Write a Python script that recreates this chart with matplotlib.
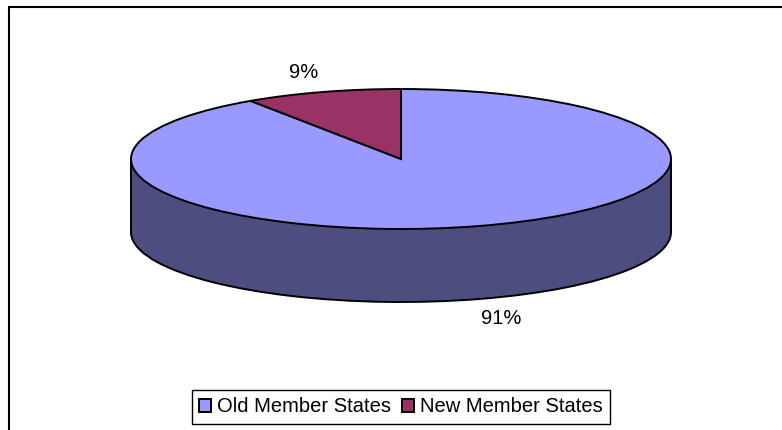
import matplotlib
matplotlib.use("Agg")
import matplotlib.pyplot as plt
from matplotlib.patches import Rectangle
from matplotlib.transforms import Affine2D

categories = ["Old Member States", "New Member States"]
shares = [90.6, 9.4]
top_colors = ["#9999FF", "#993366"]
side_colors = ["#4D4D80", "#4D1A33"]

W, H = 782, 430
CX, CY = 401, H - 159  # pie centre, pixels from the bottom
RX, RY = 270, 70
DEPTH = 73
LW = 1.4

plt.rcParams["font.family"] = ["Liberation Sans", "DejaVu Sans"]

fig = plt.figure(figsize=(W / 100, H / 100), dpi=100)
ax = fig.add_axes([0, 0, 1, 1])
ax.set_xlim(0, W)
ax.set_ylim(0, H)
ax.axis("off")

# chart frame: right and bottom edges are cropped off in the source
ax.add_patch(Rectangle((8.5, -10), W, H - 7 + 10, fc="white", ec="black", lw=1.5, clip_on=True))


def squashed_pie(colors, cy, zorder):
    wedges, _ = ax.pie(shares, colors=colors, startangle=90, counterclock=False,
                       wedgeprops={"ec": "black", "lw": LW, "zorder": zorder})
    for w in wedges:
        w.set_transform(Affine2D().scale(RX, RY).translate(CX, cy) + ax.transData)
    return wedges


# side wall = lower pie + block between the two rims, then the lid on top
squashed_pie(side_colors, CY - DEPTH, 2)
ax.add_patch(Rectangle((CX - RX, CY - DEPTH), 2 * RX, DEPTH, fc=side_colors[0], ec="none", zorder=3))
# small patch hides the lower pie's centre point
ax.add_patch(Rectangle((CX - 40, CY - DEPTH - 6), 80, 6, fc=side_colors[0], ec="none", zorder=3))
ax.plot([CX - RX, CX - RX], [CY - DEPTH, CY], color="black", lw=LW, zorder=3)
ax.plot([CX + RX, CX + RX], [CY - DEPTH, CY], color="black", lw=LW, zorder=3)
lid = squashed_pie(top_colors, CY, 4)

# pie() resets the limits and aspect
ax.set_aspect("auto")
ax.set_xlim(0, W)
ax.set_ylim(0, H)

ax.text(501, H - 318, f"{shares[0]:.0f}%", fontsize=14.5, ha="center", va="center", zorder=5)
ax.text(304, H - 72, f"{shares[1]:.0f}%", fontsize=14.5, ha="center", va="center", zorder=5)

leg = ax.legend(lid, categories, ncol=2, loc="center", bbox_to_anchor=(401, H - 407),
                bbox_transform=ax.transData, fontsize=14.5, frameon=True, fancybox=False,
                edgecolor="black", framealpha=1, handlelength=0.6, handleheight=0.6,
                handletextpad=0.3, columnspacing=0.55, borderpad=0.35, borderaxespad=0)
leg.get_frame().set_linewidth(1.0)
leg.set_zorder(6)

fig.savefig("out.png", dpi=100)
